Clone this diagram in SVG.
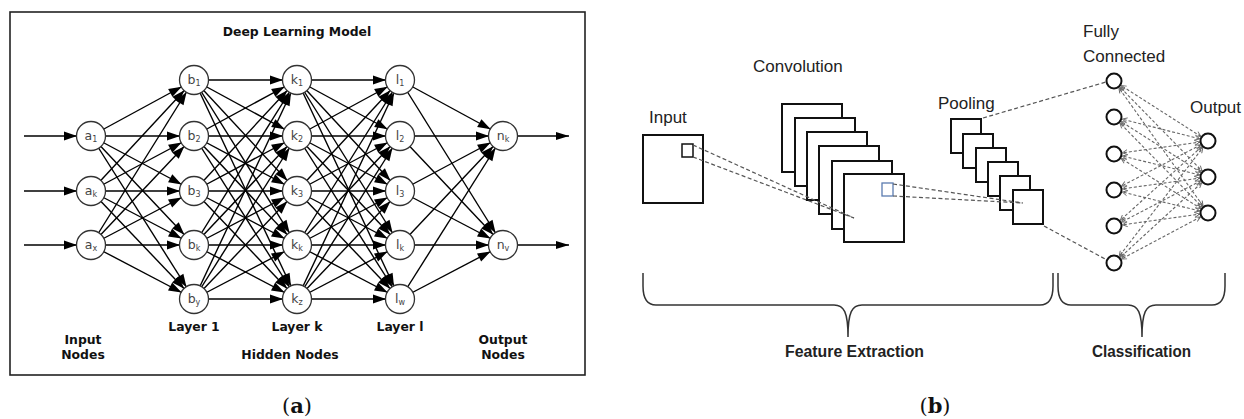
<svg xmlns="http://www.w3.org/2000/svg" width="1244" height="419" viewBox="0 0 1244 419">
<style>
.frame{fill:none;stroke:#222;stroke-width:1.6}
.e{stroke:#000;stroke-width:1.4;fill:none;marker-end:url(#ah)}
.io{stroke:#000;stroke-width:1.4;fill:none}
.nd{fill:#fff;stroke:#333;stroke-width:1.3}
.nl{font-family:"DejaVu Sans",Verdana,sans-serif;font-size:12.5px;fill:#444;text-anchor:middle}
.sb{font-size:8px}
.bt{font-family:"DejaVu Sans",Verdana,sans-serif;font-weight:bold;font-size:12.4px;fill:#111;text-anchor:middle}
.cap{font-family:"DejaVu Serif","Liberation Serif",serif;font-size:21px;fill:#111;text-anchor:middle}
.sq{fill:#fff;stroke:#111;stroke-width:2}
.dl{stroke:#555;stroke-width:1.2;stroke-dasharray:4 2.5;fill:none}
.fc{stroke:#666;stroke-width:1.1;stroke-dasharray:3 2;fill:none;marker-start:url(#sa);marker-end:url(#sa)}
.cn{fill:#fff;stroke:#111;stroke-width:2}
.lb{font-family:"Liberation Sans",Arial,sans-serif;font-size:17px;fill:#222}
.bl{font-family:"Liberation Sans",Arial,sans-serif;font-size:16px;font-weight:bold;fill:#222}
.br{fill:none;stroke:#333;stroke-width:1.5}
</style>
<defs>
<marker id="ah" markerUnits="userSpaceOnUse" markerWidth="30" markerHeight="10" refX="27" refY="4.5" orient="auto" overflow="visible"><path d="M0,0 L13,4.5 L0,9 z" fill="#000"/></marker>
<marker id="ahEnd" markerUnits="userSpaceOnUse" markerWidth="14" markerHeight="10" refX="13" refY="4" orient="auto" overflow="visible"><path d="M0,0 L13,4 L0,8 z" fill="#000"/></marker>
<marker id="sa" markerUnits="userSpaceOnUse" markerWidth="20" markerHeight="6" refX="13.5" refY="2.5" orient="auto-start-reverse" overflow="visible"><path d="M0,0 L5,2.5 L0,5" fill="none" stroke="#666" stroke-width="0.9"/></marker>
</defs>

<!-- Panel (a) -->
<rect id="frame-a" class="frame" x="10" y="12" width="575" height="363"/>
<text id="title-a" class="bt" x="297" y="36">Deep Learning Model</text>

<g id="connectors-a">
<line class="io" x1="24" y1="136" x2="91" y2="136" style="marker-end:url(#ah)"/>
<line class="io" x1="24" y1="191" x2="91" y2="191" style="marker-end:url(#ah)"/>
<line class="io" x1="24" y1="245" x2="91" y2="245" style="marker-end:url(#ah)"/>
<line class="io" x1="518" y1="136" x2="569" y2="136" style="marker-end:url(#ahEnd)"/>
<line class="io" x1="518" y1="245" x2="569" y2="245" style="marker-end:url(#ahEnd)"/>
<!-- A -> B -->
<line class="e" x1="91" y1="136" x2="194" y2="80"/>
<line class="e" x1="91" y1="136" x2="194" y2="136"/>
<line class="e" x1="91" y1="136" x2="194" y2="191"/>
<line class="e" x1="91" y1="136" x2="194" y2="245"/>
<line class="e" x1="91" y1="136" x2="194" y2="299"/>
<line class="e" x1="91" y1="191" x2="194" y2="80"/>
<line class="e" x1="91" y1="191" x2="194" y2="136"/>
<line class="e" x1="91" y1="191" x2="194" y2="191"/>
<line class="e" x1="91" y1="191" x2="194" y2="245"/>
<line class="e" x1="91" y1="191" x2="194" y2="299"/>
<line class="e" x1="91" y1="245" x2="194" y2="80"/>
<line class="e" x1="91" y1="245" x2="194" y2="136"/>
<line class="e" x1="91" y1="245" x2="194" y2="191"/>
<line class="e" x1="91" y1="245" x2="194" y2="245"/>
<line class="e" x1="91" y1="245" x2="194" y2="299"/>
<!-- B -> K -->
<line class="e" x1="194" y1="80" x2="297" y2="80"/>
<line class="e" x1="194" y1="80" x2="297" y2="136"/>
<line class="e" x1="194" y1="80" x2="297" y2="191"/>
<line class="e" x1="194" y1="80" x2="297" y2="245"/>
<line class="e" x1="194" y1="80" x2="297" y2="299"/>
<line class="e" x1="194" y1="136" x2="297" y2="80"/>
<line class="e" x1="194" y1="136" x2="297" y2="136"/>
<line class="e" x1="194" y1="136" x2="297" y2="191"/>
<line class="e" x1="194" y1="136" x2="297" y2="245"/>
<line class="e" x1="194" y1="136" x2="297" y2="299"/>
<line class="e" x1="194" y1="191" x2="297" y2="80"/>
<line class="e" x1="194" y1="191" x2="297" y2="136"/>
<line class="e" x1="194" y1="191" x2="297" y2="191"/>
<line class="e" x1="194" y1="191" x2="297" y2="245"/>
<line class="e" x1="194" y1="191" x2="297" y2="299"/>
<line class="e" x1="194" y1="245" x2="297" y2="80"/>
<line class="e" x1="194" y1="245" x2="297" y2="136"/>
<line class="e" x1="194" y1="245" x2="297" y2="191"/>
<line class="e" x1="194" y1="245" x2="297" y2="245"/>
<line class="e" x1="194" y1="245" x2="297" y2="299"/>
<line class="e" x1="194" y1="299" x2="297" y2="80"/>
<line class="e" x1="194" y1="299" x2="297" y2="136"/>
<line class="e" x1="194" y1="299" x2="297" y2="191"/>
<line class="e" x1="194" y1="299" x2="297" y2="245"/>
<line class="e" x1="194" y1="299" x2="297" y2="299"/>
<!-- K -> L -->
<line class="e" x1="297" y1="80" x2="400" y2="80"/>
<line class="e" x1="297" y1="80" x2="400" y2="136"/>
<line class="e" x1="297" y1="80" x2="400" y2="191"/>
<line class="e" x1="297" y1="80" x2="400" y2="245"/>
<line class="e" x1="297" y1="80" x2="400" y2="299"/>
<line class="e" x1="297" y1="136" x2="400" y2="80"/>
<line class="e" x1="297" y1="136" x2="400" y2="136"/>
<line class="e" x1="297" y1="136" x2="400" y2="191"/>
<line class="e" x1="297" y1="136" x2="400" y2="245"/>
<line class="e" x1="297" y1="136" x2="400" y2="299"/>
<line class="e" x1="297" y1="191" x2="400" y2="80"/>
<line class="e" x1="297" y1="191" x2="400" y2="136"/>
<line class="e" x1="297" y1="191" x2="400" y2="191"/>
<line class="e" x1="297" y1="191" x2="400" y2="245"/>
<line class="e" x1="297" y1="191" x2="400" y2="299"/>
<line class="e" x1="297" y1="245" x2="400" y2="80"/>
<line class="e" x1="297" y1="245" x2="400" y2="136"/>
<line class="e" x1="297" y1="245" x2="400" y2="191"/>
<line class="e" x1="297" y1="245" x2="400" y2="245"/>
<line class="e" x1="297" y1="245" x2="400" y2="299"/>
<line class="e" x1="297" y1="299" x2="400" y2="80"/>
<line class="e" x1="297" y1="299" x2="400" y2="136"/>
<line class="e" x1="297" y1="299" x2="400" y2="191"/>
<line class="e" x1="297" y1="299" x2="400" y2="245"/>
<line class="e" x1="297" y1="299" x2="400" y2="299"/>
<!-- L -> N -->
<line class="e" x1="400" y1="80" x2="503" y2="136"/>
<line class="e" x1="400" y1="80" x2="503" y2="245"/>
<line class="e" x1="400" y1="136" x2="503" y2="136"/>
<line class="e" x1="400" y1="136" x2="503" y2="245"/>
<line class="e" x1="400" y1="191" x2="503" y2="136"/>
<line class="e" x1="400" y1="191" x2="503" y2="245"/>
<line class="e" x1="400" y1="245" x2="503" y2="136"/>
<line class="e" x1="400" y1="245" x2="503" y2="245"/>
<line class="e" x1="400" y1="299" x2="503" y2="136"/>
<line class="e" x1="400" y1="299" x2="503" y2="245"/>
</g>

<g id="node-a1"><circle class="nd" cx="91" cy="136" r="14.5"/><text class="nl" x="91" y="140">a<tspan class="sb" dy="2">1</tspan></text></g>
<g id="node-ak"><circle class="nd" cx="91" cy="191" r="14.5"/><text class="nl" x="91" y="195">a<tspan class="sb" dy="2">k</tspan></text></g>
<g id="node-ax"><circle class="nd" cx="91" cy="245" r="14.5"/><text class="nl" x="91" y="249">a<tspan class="sb" dy="2">x</tspan></text></g>

<g id="node-b1"><circle class="nd" cx="194" cy="80" r="14.5"/><text class="nl" x="194" y="84">b<tspan class="sb" dy="2">1</tspan></text></g>
<g id="node-b2"><circle class="nd" cx="194" cy="136" r="14.5"/><text class="nl" x="194" y="140">b<tspan class="sb" dy="2">2</tspan></text></g>
<g id="node-b3"><circle class="nd" cx="194" cy="191" r="14.5"/><text class="nl" x="194" y="195">b<tspan class="sb" dy="2">3</tspan></text></g>
<g id="node-bk"><circle class="nd" cx="194" cy="245" r="14.5"/><text class="nl" x="194" y="249">b<tspan class="sb" dy="2">k</tspan></text></g>
<g id="node-by"><circle class="nd" cx="194" cy="299" r="14.5"/><text class="nl" x="194" y="303">b<tspan class="sb" dy="2">y</tspan></text></g>

<g id="node-k1"><circle class="nd" cx="297" cy="80" r="14.5"/><text class="nl" x="297" y="84">k<tspan class="sb" dy="2">1</tspan></text></g>
<g id="node-k2"><circle class="nd" cx="297" cy="136" r="14.5"/><text class="nl" x="297" y="140">k<tspan class="sb" dy="2">2</tspan></text></g>
<g id="node-k3"><circle class="nd" cx="297" cy="191" r="14.5"/><text class="nl" x="297" y="195">k<tspan class="sb" dy="2">3</tspan></text></g>
<g id="node-kk"><circle class="nd" cx="297" cy="245" r="14.5"/><text class="nl" x="297" y="249">k<tspan class="sb" dy="2">k</tspan></text></g>
<g id="node-kz"><circle class="nd" cx="297" cy="299" r="14.5"/><text class="nl" x="297" y="303">k<tspan class="sb" dy="2">z</tspan></text></g>

<g id="node-l1"><circle class="nd" cx="400" cy="80" r="14.5"/><text class="nl" x="400" y="84">l<tspan class="sb" dy="2">1</tspan></text></g>
<g id="node-l2"><circle class="nd" cx="400" cy="136" r="14.5"/><text class="nl" x="400" y="140">l<tspan class="sb" dy="2">2</tspan></text></g>
<g id="node-l3"><circle class="nd" cx="400" cy="191" r="14.5"/><text class="nl" x="400" y="195">l<tspan class="sb" dy="2">3</tspan></text></g>
<g id="node-lk"><circle class="nd" cx="400" cy="245" r="14.5"/><text class="nl" x="400" y="249">l<tspan class="sb" dy="2">k</tspan></text></g>
<g id="node-lw"><circle class="nd" cx="400" cy="299" r="14.5"/><text class="nl" x="400" y="303">l<tspan class="sb" dy="2">w</tspan></text></g>

<g id="node-nk"><circle class="nd" cx="503" cy="136" r="14.5"/><text class="nl" x="503" y="140">n<tspan class="sb" dy="2">k</tspan></text></g>
<g id="node-nv"><circle class="nd" cx="503" cy="245" r="14.5"/><text class="nl" x="503" y="249">n<tspan class="sb" dy="2">v</tspan></text></g>

<g id="labels-a">
<text class="bt" x="194" y="331">Layer 1</text>
<text class="bt" x="297" y="331">Layer k</text>
<text class="bt" x="400" y="331">Layer l</text>
<text class="bt" x="83" y="344">Input</text>
<text class="bt" x="83" y="359">Nodes</text>
<text class="bt" x="290" y="359">Hidden Nodes</text>
<text class="bt" x="503" y="344">Output</text>
<text class="bt" x="503" y="359">Nodes</text>
</g>
<text id="cap-a" class="cap" x="297" y="413">(<tspan font-weight="bold">a</tspan>)</text>

<!-- Panel (b) -->
<g id="input-b">
<text class="lb" x="649" y="123">Input</text>
<rect class="sq" x="643" y="135" width="60" height="68"/>
<rect x="682" y="144" width="11" height="13" fill="#fff" stroke="#111" stroke-width="1.5"/>
</g>

<g id="convolution">
<text class="lb" x="753" y="72">Convolution</text>
<rect class="sq" x="782" y="104" width="60" height="68"/>
<rect class="sq" x="795" y="118" width="60" height="68"/>
<rect class="sq" x="807" y="132" width="60" height="68"/>
<rect class="sq" x="819" y="146" width="60" height="68"/>
<rect class="sq" x="832" y="161" width="60" height="68"/>
<rect class="sq" x="844" y="174" width="60" height="68"/>
<rect x="882" y="183" width="11" height="13" fill="#fff" stroke="#5b7bb0" stroke-width="1.3"/>
</g>

<g id="pooling">
<text class="lb" x="938" y="109">Pooling</text>
<rect class="sq" x="951" y="119" width="30" height="34"/>
<rect class="sq" x="963" y="134" width="30" height="34"/>
<rect class="sq" x="976" y="148" width="30" height="34"/>
<rect class="sq" x="988" y="162" width="30" height="34"/>
<rect class="sq" x="1000" y="176" width="30" height="34"/>
<rect class="sq" x="1013" y="190" width="30" height="34"/>
</g>

<g id="connectors-b">
<line class="dl" x1="693" y1="145" x2="854" y2="218"/>
<line class="dl" x1="693" y1="157" x2="854" y2="218"/>
<line class="dl" x1="893" y1="184" x2="1023" y2="203"/>
<line class="dl" x1="893" y1="196" x2="1023" y2="203"/>
<line class="dl" x1="983" y1="118" x2="1106" y2="82"/>
<line class="dl" x1="1044" y1="226" x2="1107" y2="260"/>
<line class="fc" x1="1114" y1="81" x2="1208" y2="141"/>
<line class="fc" x1="1114" y1="81" x2="1208" y2="177"/>
<line class="fc" x1="1114" y1="81" x2="1208" y2="213"/>
<line class="fc" x1="1114" y1="117" x2="1208" y2="141"/>
<line class="fc" x1="1114" y1="117" x2="1208" y2="177"/>
<line class="fc" x1="1114" y1="117" x2="1208" y2="213"/>
<line class="fc" x1="1114" y1="154" x2="1208" y2="141"/>
<line class="fc" x1="1114" y1="154" x2="1208" y2="177"/>
<line class="fc" x1="1114" y1="154" x2="1208" y2="213"/>
<line class="fc" x1="1114" y1="190" x2="1208" y2="141"/>
<line class="fc" x1="1114" y1="190" x2="1208" y2="177"/>
<line class="fc" x1="1114" y1="190" x2="1208" y2="213"/>
<line class="fc" x1="1114" y1="226" x2="1208" y2="141"/>
<line class="fc" x1="1114" y1="226" x2="1208" y2="177"/>
<line class="fc" x1="1114" y1="226" x2="1208" y2="213"/>
<line class="fc" x1="1114" y1="263" x2="1208" y2="141"/>
<line class="fc" x1="1114" y1="263" x2="1208" y2="177"/>
<line class="fc" x1="1114" y1="263" x2="1208" y2="213"/>
</g>

<g id="fully-connected">
<text class="lb" x="1083" y="37">Fully</text>
<text class="lb" x="1083" y="62">Connected</text>
<circle class="cn" cx="1114" cy="81" r="7.5"/>
<circle class="cn" cx="1114" cy="117" r="7.5"/>
<circle class="cn" cx="1114" cy="154" r="7.5"/>
<circle class="cn" cx="1114" cy="190" r="7.5"/>
<circle class="cn" cx="1114" cy="226" r="7.5"/>
<circle class="cn" cx="1114" cy="263" r="7.5"/>
</g>

<g id="output-b">
<text class="lb" x="1190" y="113">Output</text>
<circle class="cn" cx="1208" cy="141" r="7.5"/>
<circle class="cn" cx="1208" cy="177" r="7.5"/>
<circle class="cn" cx="1208" cy="213" r="7.5"/>
</g>

<g id="feature-extraction">
<path class="br" d="M643,273 L643,286 C643,299 647,305 656,305 L834,305 C844,305 848,312 848,337 C848,312 852,305 862,305 L1040,305 C1049,305 1053,299 1053,286 L1053,273"/>
<text class="bl" x="785" y="357" textLength="139" lengthAdjust="spacingAndGlyphs">Feature Extraction</text>
</g>
<g id="classification">
<path class="br" d="M1058,273 L1058,286 C1058,299 1062,305 1071,305 L1128,305 C1138,305 1142,312 1142,337 C1142,312 1146,305 1156,305 L1212,305 C1221,305 1225,299 1225,286 L1225,273"/>
<text class="bl" x="1092" y="357" textLength="99" lengthAdjust="spacingAndGlyphs">Classification</text>
</g>
<text id="cap-b" class="cap" x="935" y="413">(<tspan font-weight="bold">b</tspan>)</text>
</svg>
